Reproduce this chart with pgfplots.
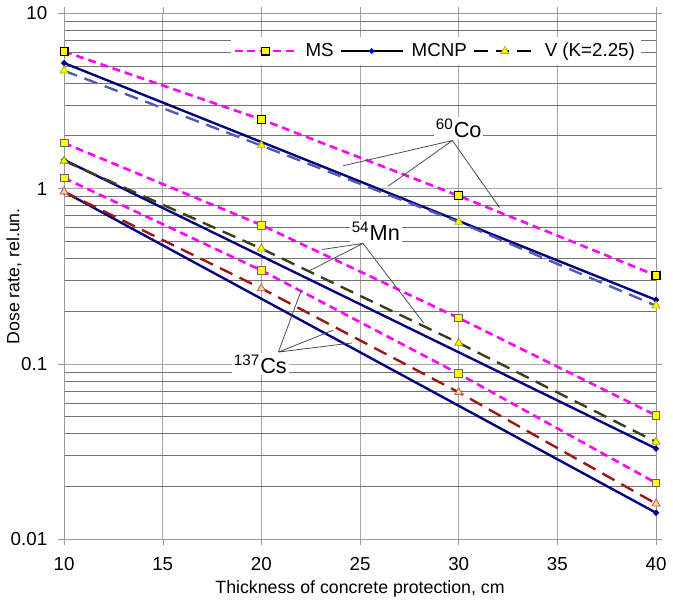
\documentclass[border=0pt]{standalone}
\usepackage{pgfplots}
\pgfplotsset{compat=1.18}
\usepackage{fontspec}
\setmainfont{Liberation Sans}

\definecolor{msmag}{RGB}{255,0,255}
\definecolor{navy}{RGB}{0,0,128}
\definecolor{vco}{RGB}{80,90,175}
\definecolor{vmn}{RGB}{60,60,30}
\definecolor{vcs}{RGB}{160,20,20}
\definecolor{mkyel}{RGB}{255,255,0}

\begin{document}
\begin{tikzpicture}
\begin{axis}[
    scale only axis,
    width=300pt, height=266.7pt,
    ymode=log,
    xmin=10, xmax=40, ymin=0.01, ymax=10,
    xtick={10,15,...,40},
    ytick={0.01,0.1,1,10},
    yticklabels={0.01,0.1,1,10},
    grid=both,
    major grid style={gray!70, line width=0.5pt},
    minor grid style={black!55, line width=0.4pt},
    minor y tick num=8,
    axis line style={gray!80},
    tick style={gray!80},
    tick align=outside,
    minor tick length=0pt,
    major tick length=3pt,
    ticklabel style={font=\fontsize{9.5}{11}\selectfont},
    xticklabel style={yshift=-2.8pt},
    yticklabel style={xshift=-2pt},
    /pgf/number format/assume math mode=true,
    xlabel={Thickness of concrete protection, cm},
    ylabel={Dose rate, rel.un.},
    label style={font=\fontsize{9}{11}\selectfont},
    xlabel style={yshift=2pt},
    ylabel style={at={(axis description cs:0,0.5)}, anchor=center, yshift=25.3pt},
    legend style={at={(0.975,0.928)}, anchor=east, draw=none, fill=white,
        font=\fontsize{9.5}{11}\selectfont, inner sep=1pt,
        /tikz/every even column/.append style={column sep=1pt},
        /tikz/every odd column/.append style={column sep=2pt}},
    legend columns=3,
    legend cell align=left,
    legend image code/.code={%
        \draw[mark repeat=2, mark phase=2, #1]
        plot coordinates {(0cm,0cm) (0.55cm,0cm) (1.1cm,0cm)};},
]
\path (rel axis cs:0,0) ++(-34.3pt,0pt);
% legend images
\addlegendimage{msmag, line width=1.3pt, dash pattern=on 4pt off 2.5pt,
    mark=square*, mark size=2pt, mark options={solid, fill=mkyel, draw=black, line width=0.6pt}}
\addlegendentry{MS}
\addlegendimage{black, line width=1.2pt, mark=*, mark size=0.7pt, mark options={fill=blue, draw=blue}}
\addlegendentry{MCNP}
\addlegendimage{black, line width=1.2pt, dash pattern=on 7pt off 4pt,
    mark=triangle*, mark size=2.3pt, mark options={solid, fill=mkyel, draw=mkyel!70!black, line width=0.4pt}}
\addlegendentry{V (K=2.25)}

% ---- 60Co ----
\addplot[msmag, line width=1.3pt, dash pattern=on 4pt off 2.5pt,
    mark=square*, mark size=2pt, mark options={solid, fill=mkyel, draw=black, line width=0.6pt}, forget plot]
    coordinates {(10,6.05)(20,2.48)(30,0.91)(40,0.32)};
\addplot[navy, line width=1.2pt, mark=*, mark size=0.8pt, forget plot]
    coordinates {(10,5.2)(40,0.232)};
\addplot[vco, line width=1.2pt, dash pattern=on 7pt off 4pt,
    mark=triangle*, mark size=2.3pt, mark options={solid, fill=mkyel, draw=mkyel!70!black, line width=0.4pt}, forget plot]
    coordinates {(10,4.7)(20,1.76)(30,0.645)(40,0.215)};

% ---- 54Mn ----
\addplot[msmag, line width=1.3pt, dash pattern=on 4pt off 2.5pt,
    mark=square*, mark size=2pt, mark options={solid, fill=mkyel, draw=black!60, line width=0.5pt}, forget plot]
    coordinates {(10,1.82)(20,0.62)(30,0.183)(40,0.051)};
\addplot[navy, line width=1.2pt, mark=*, mark size=0.8pt, forget plot]
    coordinates {(10,1.46)(40,0.033)};
\addplot[vmn, line width=1.2pt, dash pattern=on 7pt off 4pt,
    mark=triangle*, mark size=2.3pt, mark options={solid, fill=mkyel, draw=mkyel!60!black, line width=0.4pt}, forget plot]
    coordinates {(10,1.44)(20,0.455)(30,0.132)(40,0.036)};

% ---- 137Cs ----
\addplot[msmag, line width=1.3pt, dash pattern=on 4pt off 2.5pt,
    mark=square*, mark size=2pt, mark options={solid, fill=mkyel, draw=black!60, line width=0.5pt}, forget plot]
    coordinates {(10,1.15)(20,0.342)(30,0.088)(40,0.021)};
\addplot[navy, line width=1.2pt, mark=*, mark size=0.8pt, forget plot]
    coordinates {(10,0.96)(40,0.0142)};
\addplot[vcs, line width=1.2pt, dash pattern=on 7pt off 4pt,
    mark=triangle*, mark size=2.3pt, mark options={solid, fill={rgb,255:red,250;green,215;blue,150}, draw=vcs!70, line width=0.4pt}, forget plot]
    coordinates {(10,0.96)(20,0.27)(30,0.069)(40,0.016)};

% ---- annotations ----
\draw[gray!60!black, line width=0.4pt]
    (axis cs:29.68,1.88) -- (axis cs:24.14,1.35)
    (axis cs:29.68,1.88) -- (axis cs:26.41,1.03)
    (axis cs:29.68,1.88) -- (axis cs:32.07,0.78);
\node[anchor=south, fill=white, inner sep=1pt, font=\fontsize{11}{13}\selectfont]
    at (axis cs:30.0,1.9) {\textsuperscript{60}Co};

\draw[gray!60!black, line width=0.4pt]
    (axis cs:25.15,0.487) -- (axis cs:23.08,0.45)
    (axis cs:25.15,0.487) -- (axis cs:22.47,0.342)
    (axis cs:25.15,0.487) -- (axis cs:28.23,0.171);
\node[anchor=south, fill=white, inner sep=1pt, font=\fontsize{11}{13}\selectfont]
    at (axis cs:25.8,0.49) {\textsuperscript{54}Mn};

\draw[gray!60!black, line width=0.4pt]
    (axis cs:20.86,0.117) -- (axis cs:22.02,0.263)
    (axis cs:20.86,0.117) -- (axis cs:23.64,0.156)
    (axis cs:20.86,0.117) -- (axis cs:24.6,0.132);
\node[fill=white, inner sep=1pt, font=\fontsize{11}{13}\selectfont]
    at (axis cs:19.95,0.1) {\textsuperscript{137}Cs};
\end{axis}
\end{tikzpicture}
\end{document}
